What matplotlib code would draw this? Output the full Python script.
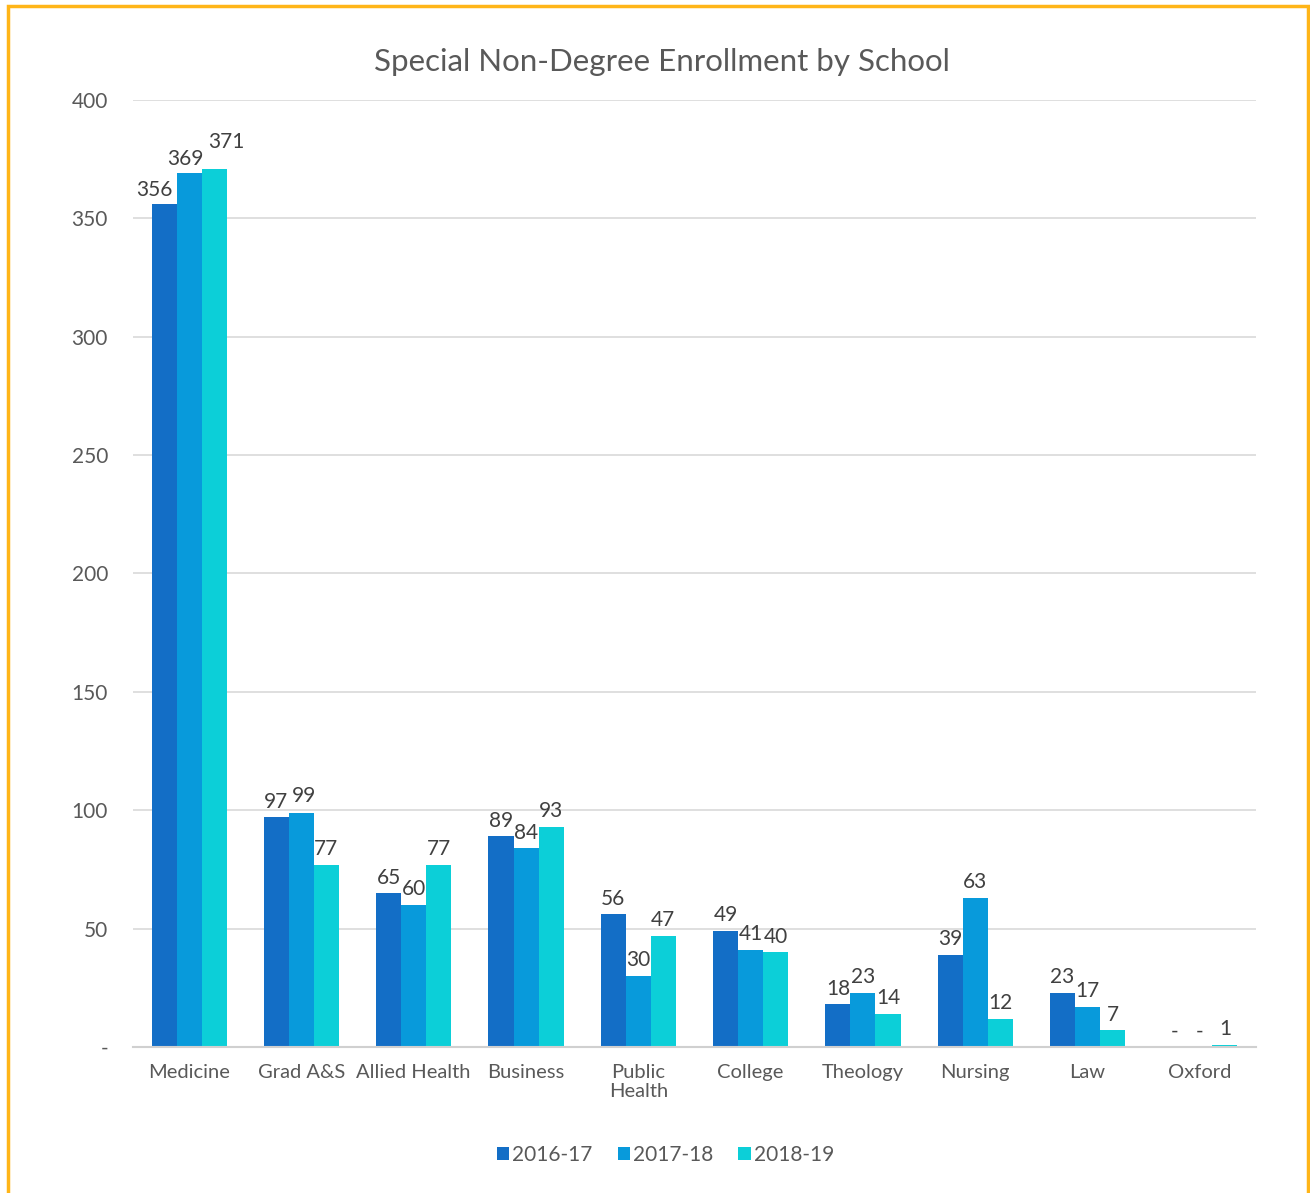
import numpy as np
import matplotlib
matplotlib.use("Agg")
import matplotlib.pyplot as plt
from matplotlib.patches import Rectangle

plt.rcParams["font.family"] = ["Lato", "DejaVu Sans"]

schools = ["Medicine", "Grad A&S", "Allied Health", "Business", "Public\nHealth",
           "College", "Theology", "Nursing", "Law", "Oxford"]
years = ["2016-17", "2017-18", "2018-19"]
enroll_2016 = [356, 97, 65, 89, 56, 49, 18, 39, 23, 0]
enroll_2017 = [369, 99, 60, 84, 30, 41, 23, 63, 17, 0]
enroll_2018 = [371, 77, 77, 93, 47, 40, 14, 12, 7, 1]
y_ticks = [0, 50, 100, 150, 200, 250, 300, 350, 400]

colors = ["#136EC6", "#089ADB", "#0CCFD8"]
text_color = "#595959"

# label nudges (points) where the Excel labels were pushed apart
nudge = {(0, 0): (-7, 3), (0, 1): (-3, 3), (0, 2): (9, 12), (1, 1): (2, 5)}


def fmt(v):
    return "-" if v == 0 else f"{v:,}"


def main():
    fig = plt.figure(figsize=(13.1, 11.93), dpi=100)
    ax = fig.add_axes([0.1015, 0.1224, 0.8573, 0.7938])

    # orange frame round the whole chart
    fig.patches.append(Rectangle((0.0061, -0.01), 0.9923, 1.005,
                                 transform=fig.transFigure, fill=False,
                                 edgecolor="#FFB518", linewidth=2.5))

    x = np.arange(len(schools))
    w = 0.223
    series = [enroll_2016, enroll_2017, enroll_2018]

    for i, (vals, col, lab) in enumerate(zip(series, colors, years)):
        pos = x + (i - 1) * w
        ax.bar(pos, vals, width=w, color=col, label=lab, zorder=2)
        for j, (px, v) in enumerate(zip(pos, vals)):
            ax.annotate(fmt(v), (px, v), xytext=nudge.get((j, i), (0, 4)),
                        textcoords="offset points", ha="center", va="bottom",
                        fontsize=15, color="#404040")

    ax.set_xlim(-0.5, len(schools) - 0.5)
    ax.set_ylim(0, 400)
    ax.set_yticks(y_ticks)
    ax.set_yticklabels([fmt(v) for v in y_ticks], fontsize=15, color=text_color)
    ax.set_xticks(x)
    ax.set_xticklabels(schools, fontsize=14.5, color=text_color, linespacing=1.15)
    ax.tick_params(axis="both", length=0)
    ax.tick_params(axis="y", pad=18)
    ax.tick_params(axis="x", pad=12)

    ax.grid(axis="y", color="#D9D9D9", linewidth=1.2, zorder=0)
    for s in ["top", "right", "left"]:
        ax.spines[s].set_visible(False)
    ax.spines["bottom"].set_color("#D0D0D0")
    ax.spines["bottom"].set_linewidth(1.5)

    fig.text(0.505, 0.948, "Special Non-Degree Enrollment by School",
             ha="center", va="center", fontsize=22.5, color=text_color)

    fig.legend(loc="center", bbox_to_anchor=(0.508, 0.032), ncol=3,
               frameon=False, fontsize=15, handlelength=0.6, handleheight=0.6,
               handletextpad=0.15, columnspacing=1.2, labelcolor=text_color)

    fig.savefig("out.png", dpi=100, facecolor="white")


if __name__ == "__main__":
    main()
